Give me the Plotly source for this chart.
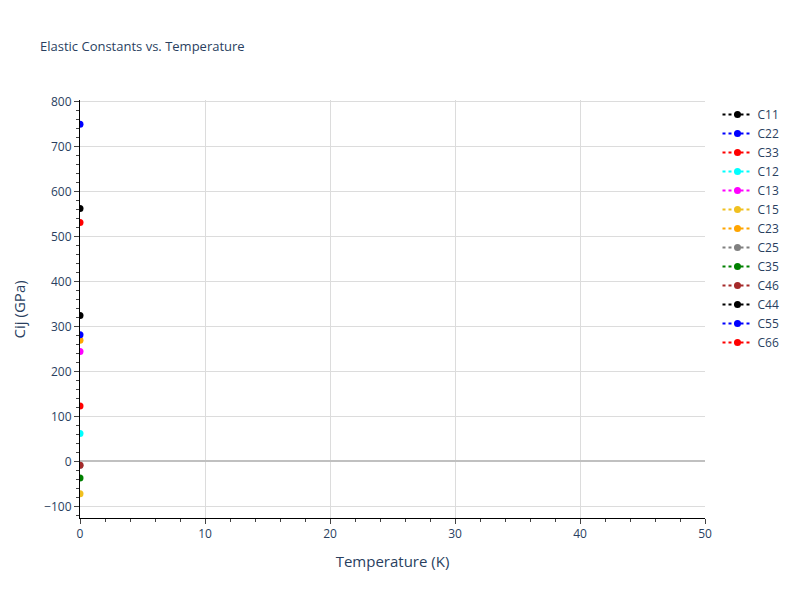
import plotly.graph_objects as go

temperature = [0]
names = ["C11", "C22", "C33", "C12", "C13", "C15", "C23", "C25", "C35", "C46", "C44", "C55", "C66"]
values = {
    "C11": [562],
    "C22": [749],
    "C33": [531],
    "C12": [62],
    "C13": [244],
    "C15": [-72],
    "C23": [269],
    "C25": [-9],
    "C35": [-37],
    "C46": [-9],
    "C44": [324],
    "C55": [281],
    "C66": [123],
}
colors = ["black", "blue", "red", "cyan", "magenta", "#f0c020", "orange", "gray", "green", "brown", "black", "blue", "red"]

fig = go.Figure()
for n, c in zip(names, colors):
    fig.add_trace(go.Scatter(
        x=temperature, y=values[n], name=n, mode="lines+markers",
        line=dict(color=c, dash="dot", width=2),
        marker=dict(color=c, size=7),
    ))

axis_common = dict(
    showline=True, linecolor="black", linewidth=1,
    ticks="outside", tickcolor="#444", ticklen=5,
    showgrid=True, gridcolor="#dcdcdc", gridwidth=1,
    zeroline=True, zerolinecolor="#c0c0c0", zerolinewidth=1.5,
    tickfont=dict(size=12, color="#2a3f5f"),
)

fig.update_layout(
    width=800, height=600,
    template="plotly_white",
    title=dict(text="Elastic Constants vs. Temperature", x=0.04, y=0.943,
               font=dict(size=13, color="#2a3f5f")),
    margin=dict(l=72, r=103, t=92, b=90),
    xaxis=dict(title=dict(text="Temperature (K)", font=dict(size=15)), range=[0, 50],
               dtick=10, minor=dict(ticks="outside", dtick=2, ticklen=3, tickcolor="#444", showgrid=False),
               **axis_common),
    yaxis=dict(range=[-126, 803], automargin=False,
               dtick=100, minor=dict(ticks="outside", dtick=20, ticklen=3, tickcolor="#444", showgrid=False),
               **axis_common),
    legend=dict(font=dict(size=12, color="#2a3f5f"), tracegroupgap=0),
    plot_bgcolor="white",
    annotations=[dict(text="Cij (GPa)", textangle=-90, xref="paper", yref="paper",
                      x=-0.097, y=0.5, xanchor="center", yanchor="middle", showarrow=False,
                      font=dict(size=15, color="#2a3f5f"))],
)

fig.write_html("out.html")
